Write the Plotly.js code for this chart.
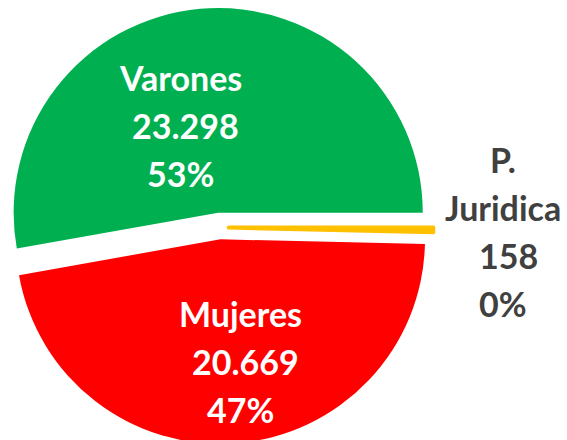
<!DOCTYPE html>
<html><head><meta charset="utf-8">
<script src="https://cdn.plot.ly/plotly-3.0.1.min.js"></script>
<style>html,body{margin:0;padding:0;overflow:hidden;background:#fff}</style>
</head><body><div id="chart" style="width:567px;height:447px"></div>
<script>
// ---- data ----
const labels = ['Varones', 'Mujeres', 'P. Juridica'];
const values = [23298, 20669, 158];
const colors = ['#00B050', '#FF0000', '#FFC000'];
const labelInside = [true, true, false];

// ---- layout constants (pixels) ----
const W = 567, H = 447;
const pulls = [0.073, 0.058, 0.045];
const labelX = [180, 240, 503];
const valueShift = 5;
const firstBaseline = [90.7, 327, 173];
const lineStep = 47.8;
const fontSize = 34;

const total = values.reduce((a, b) => a + b, 0);
function fmt(v) { return String(v).replace(/\B(?=(\d{3})+(?!\d))/g, '.'); }

const annotations = [];
labels.forEach((lab, i) => {
  const nameLines = labelInside[i] ? [lab] : lab.split(' ');
  const lines = nameLines.map(t => ({t, dx: 0}))
    .concat([{t: fmt(values[i]), dx: valueShift}, {t: Math.round(values[i] / total * 100) + '%', dx: 0}]);
  lines.forEach((ln, k) => {
    const base = firstBaseline[i] + k * lineStep;
    const yMid = base - 0.387 * fontSize;
    annotations.push({
      xref: 'paper', yref: 'paper',
      x: (labelX[i] + ln.dx) / W, y: 1 - yMid / H,
      xanchor: 'center', yanchor: 'middle',
      text: ln.t, showarrow: false,
      font: {family: 'Lato, "Open Sans", sans-serif', size: fontSize, weight: 700,
             color: labelInside[i] ? '#FFFFFF' : '#404040'}
    });
  });
});

const trace = {
  type: 'pie',
  labels: labels,
  values: values,
  sort: false,
  direction: 'counterclockwise',
  rotation: 90 - 360 * values[0] / total,
  pull: pulls,
  textinfo: 'none',
  hoverinfo: 'none',
  marker: {colors: colors, line: {color: colors, width: [0, 0, 4]}},
  domain: {x: [0, 0.7743], y: [0, 0.9821]}
};

Plotly.newPlot('chart', [trace], {
  width: W, height: H,
  margin: {l: 0, r: 0, t: 0, b: 0},
  showlegend: false,
  paper_bgcolor: '#ffffff',
  annotations: annotations
}, {staticPlot: true, displayModeBar: false});
</script></body></html>
